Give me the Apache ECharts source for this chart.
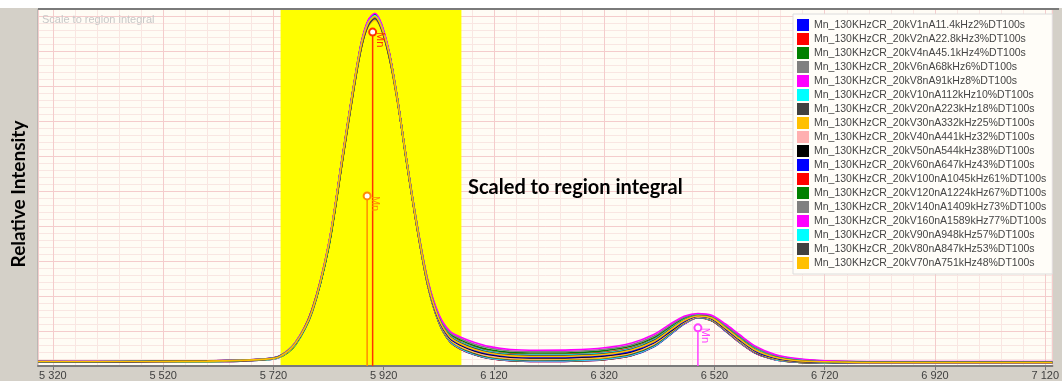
<!DOCTYPE html>
<html><head><meta charset="utf-8">
<script src="https://cdn.jsdelivr.net/npm/echarts@6/dist/echarts.min.js"></script>
<style>html,body{margin:0;padding:0;background:#d4d0c8}#c{width:1062px;height:381px}</style>
</head><body><div id="c"></div>
<script>
// ---- data ----
const AXIS_ORIGIN = 5320;           // first labelled tick (eV)
const xRange = [5293, 7133];        // visible energy range (eV)
const yRange = [0, 102];
const xTickStep = 200;
const regionOfInterest = [5733, 6061];
const energy = [5293,5400,5500,5600,5660,5700,5730,5760,5790,5820,5845,5865,5880,5892,5904,5916,5930,5945,5960,5980,6000,6020,6040,6060,6085,6110,6150,6200,6260,6320,6370,6410,6440,6465,6490,6515,6540,6565,6595,6630,6670,6720,6800,6950,7133];

const seriesNames = [
 'Mn_130KHzCR_20kV1nA11.4kHz2%DT100s','Mn_130KHzCR_20kV2nA22.8kHz3%DT100s','Mn_130KHzCR_20kV4nA45.1kHz4%DT100s',
 'Mn_130KHzCR_20kV6nA68kHz6%DT100s','Mn_130KHzCR_20kV8nA91kHz8%DT100s','Mn_130KHzCR_20kV10nA112kHz10%DT100s',
 'Mn_130KHzCR_20kV20nA223kHz18%DT100s','Mn_130KHzCR_20kV30nA332kHz25%DT100s','Mn_130KHzCR_20kV40nA441kHz32%DT100s',
 'Mn_130KHzCR_20kV50nA544kHz38%DT100s','Mn_130KHzCR_20kV60nA647kHz43%DT100s','Mn_130KHzCR_20kV100nA1045kHz61%DT100s',
 'Mn_130KHzCR_20kV120nA1224kHz67%DT100s','Mn_130KHzCR_20kV140nA1409kHz73%DT100s','Mn_130KHzCR_20kV160nA1589kHz77%DT100s',
 'Mn_130KHzCR_20kV90nA948kHz57%DT100s','Mn_130KHzCR_20kV80nA847kHz53%DT100s','Mn_130KHzCR_20kV70nA751kHz48%DT100s'];
const seriesColors = ['#0000ff','#ff0000','#008000','#808080','#ff00ff','#00ffff','#404040','#ffc000','#ffb0b0','#000000',
 '#0000ff','#ff0000','#008000','#808080','#ff00ff','#00ffff','#404040','#ffc000'];

const s01 = [1.2,1.2,1.3,1.3,1.4,1.7,2.4,6.2,15.5,34, 59,79,92,98,100,97,89, 76,60,40,23,12.5,7.0,4.8,3.2,2.2,1.5,1.3,1.4,1.8,3.0,5.5,9.0,12.0,13.8,13.0,10.0,6.8,3.6,1.8,1.1,0.9,0.8,0.8,0.8];
const s02 = [1.3,1.2,1.2,1.3,1.4,1.7,2.5,6.4,15.2,34.5, 59.5,78.5,92.5,97.5,99.5,97.5,88.5, 75.5,60.5,40,23.1,12.6,7.0,4.8,3.3,2.2,1.5,1.3,1.4,1.8,3.0,5.6,9.1,12.1,13.8,12.9,10.1,6.8,3.6,1.8,1.1,0.9,0.8,0.8,0.8];
const s03 = [1.2,1.3,1.3,1.2,1.5,1.8,2.4,6.0,15.8,33.6, 58.5,79.5,91.5,98.5,100.5,96.5,89.5, 76.3,59.6,40.2,23.1,12.6,7.1,4.9,3.3,2.3,1.6,1.4,1.5,1.9,3.1,5.6,9.1,12.1,13.9,13.0,10.1,6.9,3.7,1.9,1.1,0.9,0.8,0.8,0.8];
const s04 = [1.2,1.2,1.3,1.3,1.4,1.7,2.6,6.3,15.4,34.2, 59.2,78.8,92.3,97.8,99.2,97.2,88.8, 75.8,60.2,39.8,23.1,12.6,7.1,4.9,3.3,2.3,1.6,1.4,1.5,1.9,3.1,5.6,9.1,12.1,13.8,13.1,10.1,6.9,3.7,1.9,1.1,0.9,0.8,0.8,0.8];
const s05 = [1.3,1.2,1.3,1.4,1.4,1.8,2.5,6.5,15.9,34.4, 58.8,79.3,91.7,98.7,100.6,96.8,89.2, 76.5,60.0,40.1,23.2,12.7,7.2,5.0,3.4,2.4,1.7,1.5,1.6,2.0,3.2,5.7,9.2,12.1,13.9,13.1,10.1,6.9,3.7,1.9,1.2,0.9,0.8,0.8,0.8];
const s06 = [1.2,1.1,1.3,1.3,1.5,1.7,2.4,6.1,15.3,33.8, 59.6,78.6,92.6,97.2,99.6,97.6,88.6, 76.0,60.4,40.3,23.2,12.7,7.2,5.0,3.4,2.4,1.7,1.5,1.6,2.0,3.2,5.7,9.2,12.2,13.9,13.1,10.2,7.0,3.8,1.9,1.2,0.9,0.8,0.8,0.8];
const s07 = [1.2,1.2,1.3,1.4,1.5,1.8,2.6,6.4,15.7,34.3, 59.1,79.1,91.9,98.2,100.2,96.9,89.1, 76.0,60.1,40.1,23.2,12.8,7.4,5.2,3.6,2.6,1.9,1.7,1.8,2.2,3.4,5.9,9.4,12.3,13.9,13.2,10.2,7.1,3.8,2.0,1.2,1.0,0.9,0.9,0.9];
const s08 = [1.3,1.2,1.4,1.3,1.5,1.8,2.5,6.3,15.6,34.0, 58.4,78.2,91.2,97.0,98.8,96.0,88.2, 76.1,60.1,40.2,23.3,12.9,7.6,5.4,3.9,2.8,2.1,1.9,2.0,2.4,3.7,6.2,9.6,12.4,14.0,13.3,10.4,7.2,4.0,2.1,1.3,1.0,0.9,0.9,0.9];
const s09 = [1.2,1.3,1.3,1.4,1.5,1.9,2.6,6.6,15.9,34.6, 59.3,79.4,92.4,98.4,100.0,97.3,89.4, 76.1,60.2,40.3,23.4,13.1,7.8,5.7,4.1,3.0,2.3,2.1,2.2,2.7,3.9,6.4,9.8,12.6,14.1,13.4,10.5,7.4,4.1,2.2,1.4,1.1,0.9,0.9,0.9];
const s10 = [1.3,1.2,1.3,1.4,1.5,1.8,2.7,6.4,15.5,33.9, 58.7,78.7,91.6,97.6,99.7,96.6,88.7, 76.1,60.2,40.3,23.5,13.2,7.9,5.9,4.3,3.3,2.5,2.3,2.4,2.9,4.1,6.6,9.9,12.7,14.2,13.5,10.6,7.5,4.2,2.3,1.4,1.1,1.0,1.0,1.0];
const s11 = [1.2,1.2,1.4,1.4,1.6,1.9,2.6,6.5,15.8,34.4, 59.4,79.2,92.2,98.6,100.4,97.4,89.3, 76.1,60.2,40.4,23.6,13.4,8.1,6.1,4.5,3.5,2.7,2.5,2.6,3.1,4.3,6.8,10.1,12.8,14.2,13.6,10.7,7.6,4.3,2.4,1.5,1.1,1.0,1.0,1.0];
const s12 = [1.3,1.3,1.4,1.5,1.6,1.9,2.7,6.6,16.0,34.5, 58.9,78.9,91.8,97.9,99.8,96.7,88.9, 76.2,60.4,40.6,24.0,13.9,8.9,6.9,5.4,4.3,3.5,3.3,3.4,3.9,5.2,7.7,10.9,13.4,14.5,13.9,11.2,8.2,4.8,2.7,1.7,1.3,1.1,1.1,1.1];
const s13 = [1.3,1.3,1.4,1.5,1.6,2.0,2.7,6.7,15.9,34.2, 59.7,79.6,92.7,98.3,100.3,97.1,89.6, 76.2,60.5,40.8,24.2,14.2,9.3,7.4,5.8,4.7,3.9,3.7,3.8,4.4,5.7,8.1,11.3,13.7,14.7,14.1,11.5,8.5,5.1,2.9,1.9,1.4,1.2,1.2,1.2];
const s14 = [1.4,1.3,1.4,1.5,1.7,2.0,2.8,6.6,16.1,34.7, 58.6,78.4,91.4,97.4,99.4,96.4,88.4, 76.3,60.5,40.9,24.4,14.5,9.6,7.8,6.2,5.2,4.3,4.1,4.2,4.8,6.1,8.5,11.6,13.9,14.8,14.3,11.7,8.7,5.3,3.1,2.0,1.4,1.2,1.2,1.2];
const s15 = [1.4,1.4,1.5,1.5,1.7,2.0,2.8,6.8,16.2,34.8, 59.8,79.7,92.8,98.8,100.8,97.8,89.8, 76.3,60.6,41.0,24.6,14.8,10.0,8.2,6.7,5.6,4.7,4.5,4.6,5.2,6.6,9.0,12.0,14.2,15.0,14.5,12.0,9.0,5.6,3.3,2.1,1.5,1.3,1.3,1.3];
const s16 = [1.3,1.3,1.4,1.4,1.6,1.9,2.7,6.6,15.8,34.3, 59.0,79.0,92.0,98.1,100.1,97.0,89.0, 76.2,60.3,40.6,23.9,13.8,8.7,6.7,5.2,4.1,3.3,3.1,3.2,3.7,5.0,7.5,10.7,13.2,14.5,13.8,11.1,8.0,4.7,2.6,1.7,1.2,1.1,1.1,1.1];
const s17 = [1.3,1.2,1.4,1.5,1.6,1.9,2.7,6.5,16.0,34.1, 58.3,78.3,91.3,97.3,99.3,96.3,88.3, 76.2,60.3,40.5,23.8,13.7,8.5,6.5,5.0,3.9,3.1,2.9,3.0,3.5,4.8,7.3,10.5,13.1,14.4,13.8,11.0,7.9,4.6,2.6,1.6,1.2,1.1,1.1,1.1];
const s18 = [1.3,1.3,1.3,1.4,1.6,1.9,2.6,6.5,15.7,34.4, 59.2,79.2,92.1,98.0,99.9,96.9,89.1, 76.1,60.3,40.4,23.7,13.5,8.3,6.3,4.7,3.7,2.9,2.7,2.8,3.3,4.6,7.0,10.3,13.0,14.3,13.7,10.9,7.8,4.5,2.5,1.5,1.2,1.0,1.0,1.0];
const seriesValues = [s01,s02,s03,s04,s05,s06,s07,s08,s09,s10,s11,s12,s13,s14,s15,s16,s17,s18];

// element line markers (energy eV, marker height, colour)
const markerEnergy = [5890, 5900, 6490];
const markerHeight = [48.6, 95.4, 10.9];
const markerColors = ['#ff8c00', '#ff3300', '#ff40ff'];
const markerLabel = 'Mn';

// ---- chart ----
const u = e => e - AXIS_ORIGIN;
const fmtTick = v => { const s = String(Math.round(v + AXIS_ORIGIN)); return s.length > 3 ? s.slice(0, -3) + ' ' + s.slice(-3) : s; };

const series = seriesValues.map((vals, i) => ({
  name: seriesNames[i], type: 'line', xAxisIndex: 0, yAxisIndex: 0,
  data: energy.map((e, k) => [u(e), vals[k]]),
  symbol: 'none', showSymbol: false, z: 2, smooth: 0.3,
  lineStyle: { width: 1.6, color: seriesColors[i] }, itemStyle: { color: seriesColors[i] },
  animation: false,
  markArea: i === 0 ? { silent: true, itemStyle: { color: '#ffff00', opacity: 1 },
    data: [[{ xAxis: u(regionOfInterest[0]) }, { xAxis: u(regionOfInterest[1]) }]] } : undefined
}));
markerEnergy.forEach((e, i) => {
  series.push({
    type: 'line', xAxisIndex: 0, yAxisIndex: 0, z: 4, animation: false, silent: true,
    lineStyle: { width: 1.5, color: markerColors[i] }, itemStyle: { color: markerColors[i], borderColor: markerColors[i] },
    showAllSymbol: true,
    data: [
      { value: [u(e), 0], symbol: 'none' },
      { value: [u(e), markerHeight[i]], symbol: 'emptyCircle', symbolSize: 7,
        label: { show: true, formatter: markerLabel, position: 'right', distance: 3, rotate: -90,
                 color: markerColors[i], fontSize: 11, fontFamily: 'Liberation Sans' } }
    ]
  });
});

const chart = echarts.init(document.getElementById('c'), null, { renderer: 'canvas' });
chart.setOption({
  backgroundColor: '#d4d0c8',
  animation: false,
  grid: { left: 38, right: 3, top: 9, bottom: 15, show: true, backgroundColor: '#fffcf5', borderColor: '#a0a0a0', borderWidth: 1, containLabel: false },
  legend: {
    orient: 'vertical', left: 793, top: 14, icon: 'rect', itemWidth: 12, itemHeight: 12, itemGap: 2,
    padding: [5, 6, 5, 4], backgroundColor: '#fffdf8', borderColor: '#dcdcdc', borderWidth: 1,
    textStyle: { fontSize: 10.5, color: '#454545', fontFamily: 'Liberation Sans' },
    data: seriesNames, selectedMode: false
  },
  xAxis: [
    { type: 'value', min: u(xRange[0]), max: u(xRange[1]), minInterval: xTickStep, maxInterval: xTickStep, splitNumber: 9, z: 1,
      axisLine: { show: true, lineStyle: { color: '#7a7a7a', width: 2 } },
      axisTick: { show: true, length: 4, lineStyle: { color: '#7a7a7a' } },
      axisLabel: { formatter: fmtTick, color: '#404040', fontSize: 11, fontFamily: 'Liberation Sans', margin: 4, showMinLabel: false, showMaxLabel: false },
      splitLine: { show: true, lineStyle: { color: '#f4cccc', width: 1 } } },
    { type: 'value', min: u(xRange[0]), max: u(xRange[1]), minInterval: xTickStep / 5, maxInterval: xTickStep / 5, splitNumber: 46, z: 0,
      position: 'bottom', axisLine: { show: false }, axisTick: { show: false }, axisLabel: { show: false },
      splitLine: { show: true, lineStyle: { color: '#f9e6e2', width: 1 } } }
  ],
  yAxis: [
    { type: 'value', min: yRange[0], max: yRange[1], interval: 10, z: 1,
      axisLine: { show: false }, axisTick: { show: false }, axisLabel: { show: false },
      splitLine: { show: true, lineStyle: { color: '#f4cccc', width: 1 } } },
    { type: 'value', min: yRange[0], max: yRange[1], interval: 2, z: 0, position: 'left',
      axisLine: { show: false }, axisTick: { show: false }, axisLabel: { show: false },
      splitLine: { show: true, lineStyle: { color: '#f9e6e2', width: 1 } } }
  ],
  graphic: [
    { type: 'rect', left: 0, top: 0, shape: { width: 1062, height: 8 }, style: { fill: '#ffffff' }, silent: true },
    { type: 'line', shape: { x1: 38, y1: 9, x2: 1059, y2: 9 }, style: { stroke: '#7a7a7a', lineWidth: 2 }, silent: true, z: 100 },
    { type: 'text', left: 42, top: 14, style: { text: 'Scale to region integral', fill: '#c8c8c8', font: '11px "Liberation Sans"' }, silent: true, z: 100 },
    { type: 'text', x: 468, y: 188, style: { text: 'Scaled to region integral', fill: '#000', font: 'bold 20px Lato', textAlign: 'left', textVerticalAlign: 'middle' }, silent: true, z: 100 },
    { type: 'text', x: 19, y: 194, rotation: Math.PI / 2, style: { text: 'Relative Intensity', fill: '#000', font: 'bold 19px Lato', textAlign: 'center', textVerticalAlign: 'middle' }, silent: true, z: 100 }
  ],
  series: series
});
</script></body></html>
